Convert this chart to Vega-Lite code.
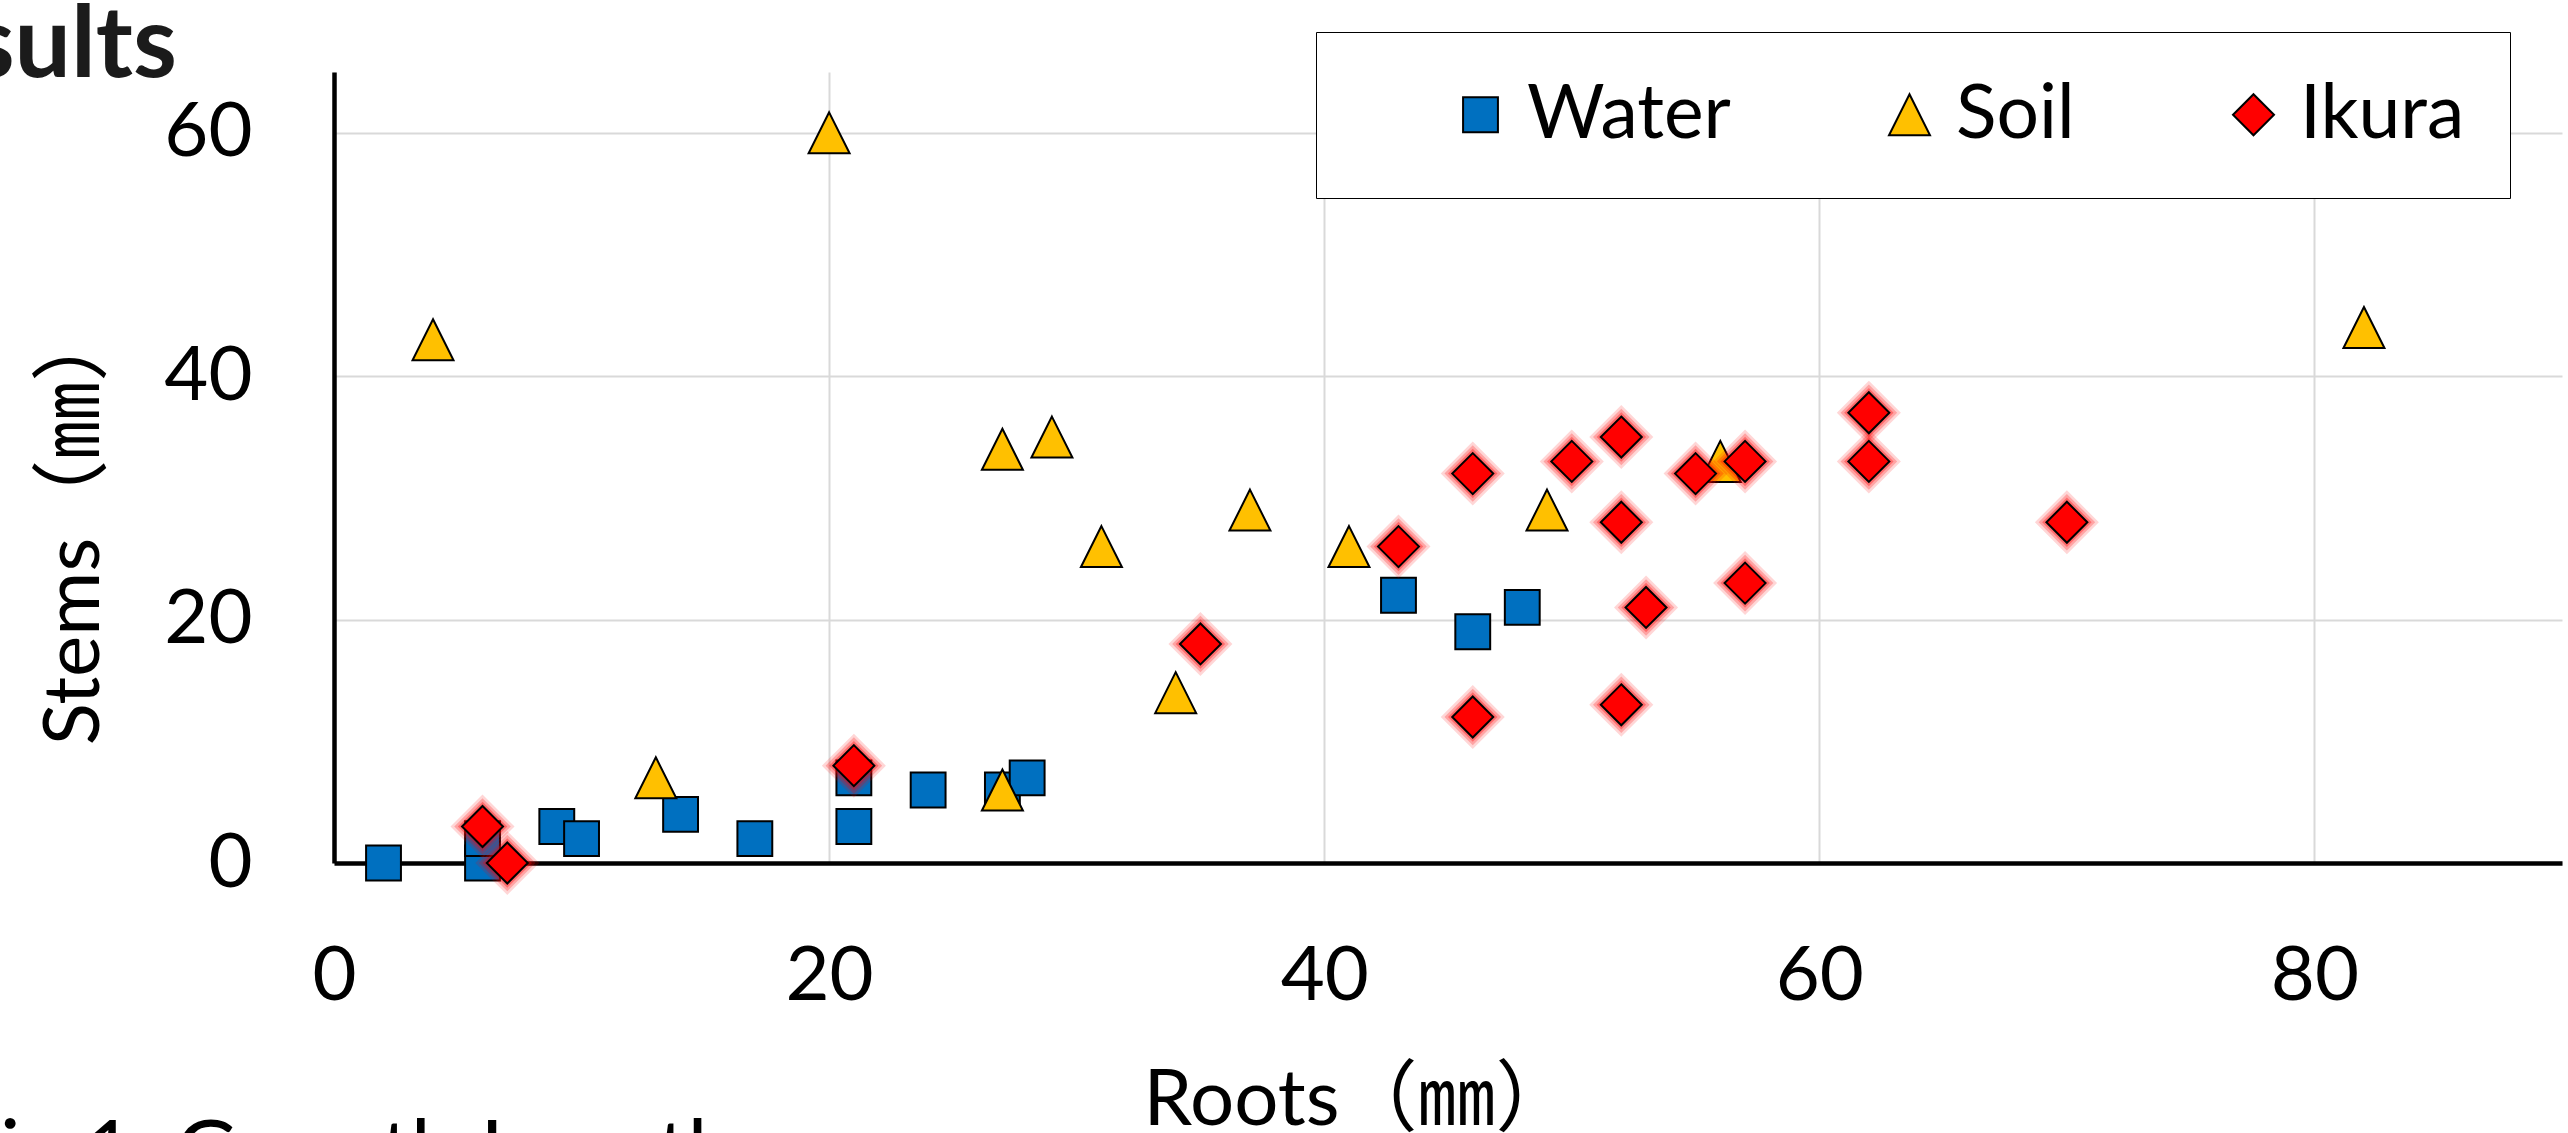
{
  "$schema": "https://vega.github.io/schema/vega-lite/v6.json",
  "width": 2228,
  "height": 791,
  "autosize": {"type": "none"},
  "padding": {"left": 334, "top": 72, "right": 6, "bottom": 270},
  "background": "white",
  "title": {
    "text": "Results",
    "frame": "group",
    "anchor": "start",
    "align": "right",
    "dx": -157,
    "baseline": "top",
    "offset": -66,
    "fontSize": 100,
    "font": "Lato",
    "fontWeight": "bold",
    "color": "#1b1b1b"
  },
  "data": {
    "values": [
      {"series": "Water", "roots": 2, "stems": 0},
      {"series": "Water", "roots": 6, "stems": 0},
      {"series": "Water", "roots": 6, "stems": 2},
      {"series": "Water", "roots": 9, "stems": 3},
      {"series": "Water", "roots": 10, "stems": 2},
      {"series": "Water", "roots": 14, "stems": 4},
      {"series": "Water", "roots": 17, "stems": 2},
      {"series": "Water", "roots": 21, "stems": 3},
      {"series": "Water", "roots": 21, "stems": 7},
      {"series": "Water", "roots": 24, "stems": 6},
      {"series": "Water", "roots": 27, "stems": 6},
      {"series": "Water", "roots": 28, "stems": 7},
      {"series": "Water", "roots": 43, "stems": 22},
      {"series": "Water", "roots": 46, "stems": 19},
      {"series": "Water", "roots": 48, "stems": 21},
      {"series": "Soil", "roots": 4, "stems": 43},
      {"series": "Soil", "roots": 20, "stems": 60},
      {"series": "Soil", "roots": 13, "stems": 7},
      {"series": "Soil", "roots": 27, "stems": 6},
      {"series": "Soil", "roots": 27, "stems": 34},
      {"series": "Soil", "roots": 29, "stems": 35},
      {"series": "Soil", "roots": 31, "stems": 26},
      {"series": "Soil", "roots": 37, "stems": 29},
      {"series": "Soil", "roots": 41, "stems": 26},
      {"series": "Soil", "roots": 49, "stems": 29},
      {"series": "Soil", "roots": 34, "stems": 14},
      {"series": "Soil", "roots": 56, "stems": 33},
      {"series": "Soil", "roots": 82, "stems": 44},
      {"series": "Ikura", "roots": 6, "stems": 3},
      {"series": "Ikura", "roots": 7, "stems": 0},
      {"series": "Ikura", "roots": 21, "stems": 8},
      {"series": "Ikura", "roots": 35, "stems": 18},
      {"series": "Ikura", "roots": 43, "stems": 26},
      {"series": "Ikura", "roots": 46, "stems": 32},
      {"series": "Ikura", "roots": 50, "stems": 33},
      {"series": "Ikura", "roots": 52, "stems": 35},
      {"series": "Ikura", "roots": 52, "stems": 28},
      {"series": "Ikura", "roots": 55, "stems": 32},
      {"series": "Ikura", "roots": 57, "stems": 33},
      {"series": "Ikura", "roots": 62, "stems": 37},
      {"series": "Ikura", "roots": 62, "stems": 33},
      {"series": "Ikura", "roots": 70, "stems": 28},
      {"series": "Ikura", "roots": 53, "stems": 21},
      {"series": "Ikura", "roots": 57, "stems": 23},
      {"series": "Ikura", "roots": 46, "stems": 12},
      {"series": "Ikura", "roots": 52, "stems": 13}
    ]
  },
  "layer": [
    {
      "transform": [{"filter": "datum.series !== 'Ikura'"}],
      "mark": {"type": "point", "filled": true, "opacity": 1, "stroke": "black", "strokeWidth": 2, "size": 1681},
      "encoding": {
        "x": {"field": "roots", "type": "quantitative", "title": "Roots（㎜）", "scale": {"domain": [0, 90], "nice": false, "zero": false}, "axis": {"values": [0, 20, 40, 60, 80]}},
        "y": {"field": "stems", "type": "quantitative", "title": "Stems（㎜）", "scale": {"domain": [0, 65], "nice": false, "zero": false}, "axis": {"values": [0, 20, 40, 60]}},
        "color": {
          "field": "series", "type": "nominal", "title": "\u00a0",
          "scale": {"domain": ["Water", "Soil", "Ikura"], "range": ["#0070C0", "#FFC000", "#FF0000"]}
        },
        "shape": {
          "field": "series", "type": "nominal", "title": "\u00a0",
          "scale": {"domain": ["Water", "Soil", "Ikura"], "range": ["M-0.85,-0.85L0.85,-0.85L0.85,0.85L-0.85,0.85Z", "M0,-1L1,1L-1,1Z", "M0,-1L1,0L0,1L-1,0Z"]}
        }
      }
    },
    {
      "transform": [{"filter": "datum.series === 'Ikura'"}],
      "mark": {"type": "point", "filled": true, "shape": "M0,-1L1,0L0,1L-1,0Z", "color": "#FF0000", "opacity": 0.16, "strokeWidth": 0, "size": 4100},
      "encoding": {
        "x": {"field": "roots", "type": "quantitative", "title": "Roots（㎜）", "axis": {"values": [0, 20, 40, 60, 80]}},
        "y": {"field": "stems", "type": "quantitative", "title": "Stems（㎜）", "axis": {"values": [0, 20, 40, 60]}}
      }
    },
    {
      "transform": [{"filter": "datum.series === 'Ikura'"}],
      "mark": {"type": "point", "filled": true, "shape": "M0,-1L1,0L0,1L-1,0Z", "color": "#FF0000", "opacity": 0.24, "strokeWidth": 0, "size": 3200},
      "encoding": {
        "x": {"field": "roots", "type": "quantitative", "title": "Roots（㎜）", "axis": {"values": [0, 20, 40, 60, 80]}},
        "y": {"field": "stems", "type": "quantitative", "title": "Stems（㎜）", "axis": {"values": [0, 20, 40, 60]}}
      }
    },
    {
      "transform": [{"filter": "datum.series === 'Ikura'"}],
      "mark": {"type": "point", "filled": true, "shape": "M0,-1L1,0L0,1L-1,0Z", "color": "#FF0000", "opacity": 0.34, "strokeWidth": 0, "size": 2450},
      "encoding": {
        "x": {"field": "roots", "type": "quantitative", "title": "Roots（㎜）", "axis": {"values": [0, 20, 40, 60, 80]}},
        "y": {"field": "stems", "type": "quantitative", "title": "Stems（㎜）", "axis": {"values": [0, 20, 40, 60]}}
      }
    },
    {
      "transform": [{"filter": "datum.series === 'Ikura'"}],
      "mark": {"type": "point", "filled": true, "opacity": 1, "stroke": "black", "strokeWidth": 2, "size": 1681},
      "encoding": {
        "x": {"field": "roots", "type": "quantitative", "title": "Roots（㎜）", "axis": {"values": [0, 20, 40, 60, 80]}},
        "y": {"field": "stems", "type": "quantitative", "title": "Stems（㎜）", "axis": {"values": [0, 20, 40, 60]}},
        "color": {
          "field": "series", "type": "nominal", "title": "\u00a0",
          "scale": {"domain": ["Water", "Soil", "Ikura"], "range": ["#0070C0", "#FFC000", "#FF0000"]}
        },
        "shape": {
          "field": "series", "type": "nominal", "title": "\u00a0",
          "scale": {"domain": ["Water", "Soil", "Ikura"], "range": ["M-0.85,-0.85L0.85,-0.85L0.85,0.85L-0.85,0.85Z", "M0,-1L1,1L-1,1Z", "M0,-1L1,0L0,1L-1,0Z"]}
        }
      }
    },
    {
      "data": {"values": [{"caption": "Fig.1. Growth Length"}]},
      "mark": {"type": "text", "align": "left", "baseline": "alphabetic", "fontSize": 85, "font": "Lato", "color": "black", "clip": false},
      "encoding": {
        "x": {"datum": -15.43, "type": "quantitative", "title": "Roots（㎜）", "axis": {"values": [0, 20, 40, 60, 80]}},
        "y": {"datum": -26.1, "type": "quantitative", "title": "Stems（㎜）", "axis": {"values": [0, 20, 40, 60]}},
        "text": {"field": "caption", "type": "nominal"}
      }
    }
  ],
  "config": {
    "view": {"stroke": null},
    "font": "Lato",
    "axis": {
      "labelFont": "Lato, 'Noto Sans CJK JP'",
      "titleFont": "Lato, 'Noto Sans CJK JP'",
      "labelColor": "black",
      "titleColor": "black",
      "labelFontSize": 76,
      "titleFontSize": 78,
      "titleFontWeight": "normal",
      "domainColor": "black",
      "domainWidth": 4.5,
      "ticks": false,
      "gridColor": "#d9d9d9",
      "gridWidth": 2,
      "labelFlush": false,
      "labelOverlap": false,
      "labelBound": false
    },
    "axisX": {
      "labelPadding": 76,
      "titleX": 1024,
      "titleY": 261,
      "titleAlign": "center",
      "titleBaseline": "alphabetic"
    },
    "axisY": {
      "labelPadding": 82,
      "titleX": -236,
      "titleY": 452,
      "titleAngle": 270,
      "titleAlign": "center",
      "titleBaseline": "alphabetic"
    },
    "legend": {
      "orient": "none",
      "legendX": 982,
      "legendY": -40,
      "direction": "horizontal",
      "titleOrient": "left",
      "titleFontSize": 10,
      "titlePadding": 82,
      "padding": 45,
      "strokeColor": "black",
      "fillColor": "white",
      "labelFontSize": 75,
      "labelFont": "Lato",
      "labelColor": "black",
      "labelOffset": 9,
      "columnPadding": 141,
      "symbolSize": 1681,
      "symbolStrokeColor": "black",
      "symbolStrokeWidth": 2,
      "labelLimit": 1000
    }
  }
}
